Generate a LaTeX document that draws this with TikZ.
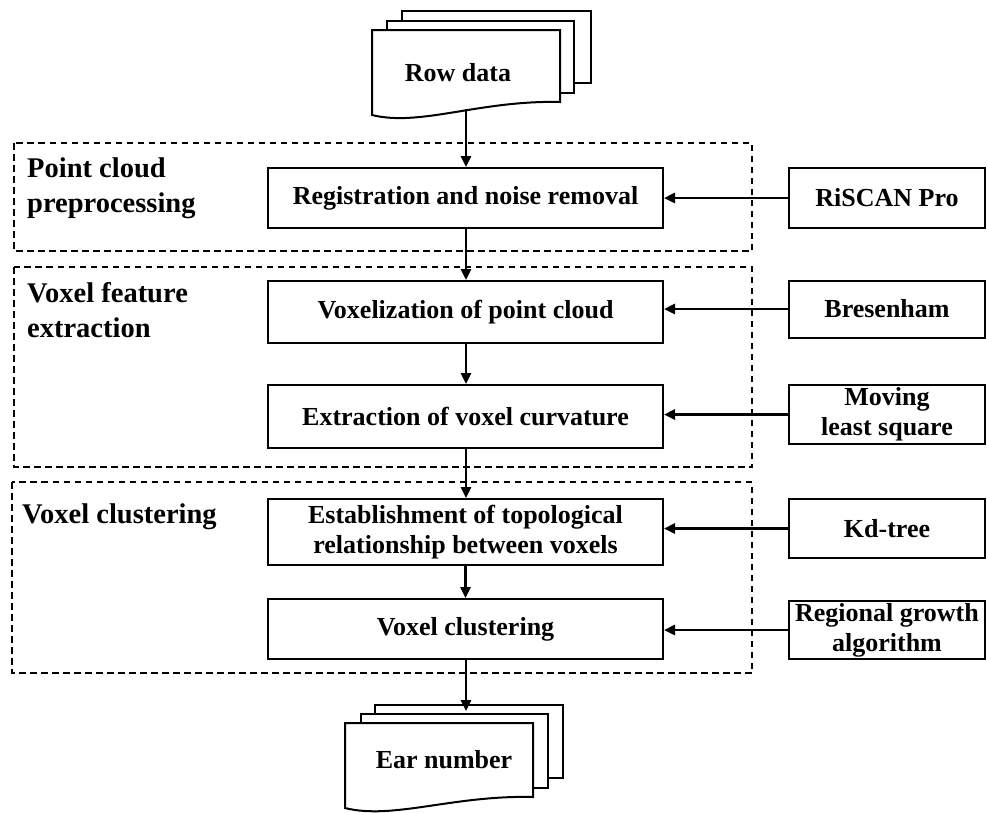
\documentclass[tikz,border=0pt]{standalone}
\usepackage{fontspec}
\setmainfont{Liberation Serif}
\usetikzlibrary{arrows.meta}
\begin{document}
\begin{tikzpicture}[x=1pt,y=-1pt,
  procbox/.style={draw,line width=2pt,fill=white,inner sep=0pt,align=center,
     font=\fontsize{26}{30}\selectfont\bfseries},
  toolbox/.style={procbox},
  group/.style={draw,line width=1.7pt,dash pattern=on 6.5pt off 4.5pt},
  grouplabel/.style={anchor=north west,inner sep=0pt,align=left,
     font=\fontsize{28.5}{35}\selectfont\bfseries},
  sheet/.style={draw,line width=2pt,fill=white},
  flow/.style={line width=2.6pt,-{Triangle[width=10pt,length=11pt]}},
  doclabel/.style={inner sep=0pt,font=\fontsize{26}{30}\selectfont\bfseries}
]
\useasboundingbox (0,0) rectangle (987,812);

% dashed groups
\draw[group] (14,143) rectangle (752,251);
\draw[group] (14,267) rectangle (752,467);
\draw[group] (12,482) rectangle (752,673);

\node[grouplabel] (g1) at (27,157.5) {Point cloud\\preprocessing};
\node[grouplabel] (g2) at (27,282.5) {Voxel feature\\extraction};
\node[grouplabel] (g3) at (22,503.5) {Voxel clustering};

% Row data document
\draw[sheet] (402,11) rectangle (591,83);
\draw[sheet] (387,21) rectangle (574,93);
\draw[sheet] (372,30) -- (560,30) -- (560,102)
   .. controls (480,100) and (420,127) .. (372,115) -- cycle;
\node[doclabel] (row) at (458,73) {Row data};
\coordinate (rowout) at (466,109);

% Ear number document
\draw[sheet] (375,705) rectangle (563,778);
\draw[sheet] (361,714) rectangle (548,788);
\draw[sheet] (345,723) -- (533,723) -- (533,797)
   .. controls (453,795) and (393,820) .. (345,808) -- cycle;
\node[doclabel] (ear) at (444,760) {Ear number};
\coordinate (earin) at (466,705);

% process boxes
\node[procbox,minimum width=395pt,minimum height=60pt] (reg) at (465.5,198) {Registration and noise removal};
\node[procbox,minimum width=395pt,minimum height=62pt] (vox) at (465.5,312) {Voxelization of point cloud};
\node[procbox,minimum width=395pt,minimum height=63pt] (ext) at (465.5,416.5) {Extraction of voxel curvature};
\node[procbox,minimum width=395pt,minimum height=66pt] (est) at (465.5,532) {Establishment of topological\\relationship between voxels};
\node[procbox,minimum width=395pt,minimum height=60pt] (clu) at (465.5,629) {Voxel clustering};

% tool boxes
\node[toolbox,minimum width=196pt,minimum height=60pt] (ris) at (887,198) {RiSCAN Pro};
\node[toolbox,minimum width=196pt,minimum height=57pt] (bre) at (887,309) {Bresenham};
\node[toolbox,minimum width=196pt,minimum height=59pt] (mls) at (887,414.5) {Moving\\least square};
\node[toolbox,minimum width=196pt,minimum height=59pt] (kd) at (887,528.5) {Kd-tree};
\node[toolbox,minimum width=196pt,minimum height=58pt] (rga) at (887,630) {Regional growth\\algorithm};

% vertical flow
\draw[flow] (rowout) -- (reg.north -| rowout);
\draw[flow] (reg.south -| rowout) -- (vox.north -| rowout);
\draw[flow] (vox.south -| rowout) -- (ext.north -| rowout);
\draw[flow] (ext.south -| rowout) -- (est.north -| rowout);
\draw[flow] (est.south) -- (clu.north);
\draw[flow] (clu.south -| rowout) -- ([yshift=-6pt]earin);

% horizontal flow
\draw[flow] (ris.west) -- (reg.east |- ris.west);
\draw[flow] (bre.west) -- (vox.east |- bre.west);
\draw[flow] (mls.west) -- (ext.east |- mls.west);
\draw[flow] (kd.west) -- (est.east |- kd.west);
\draw[flow] (rga.west) -- (clu.east |- rga.west);
\end{tikzpicture}
\end{document}
